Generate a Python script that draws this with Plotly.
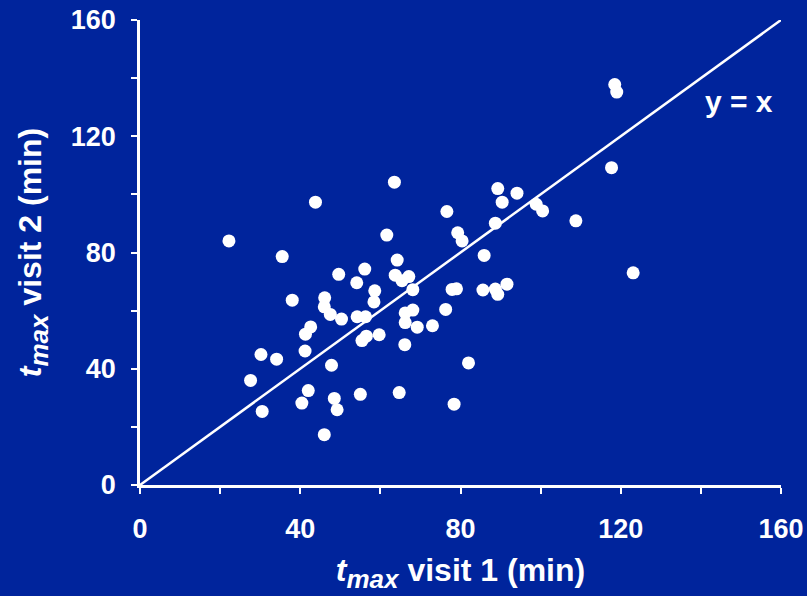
import plotly.graph_objects as go

visit1 = [22.2, 43.8, 63.5, 61.6, 35.5, 49.6, 56.1, 64.2, 54.1, 58.6,
          58.4, 63.7, 65.4, 67.1, 68.1, 38.0, 46.1, 46.0, 47.5, 50.3,
          54.2, 56.3, 66.2, 68.1, 66.2, 69.2, 73.0, 42.6, 41.3, 56.5,
          55.4, 59.7, 66.1, 41.2, 30.2, 34.1, 47.8, 27.6, 42.0, 40.4,
          30.5, 48.5, 49.2, 46.0, 55.0, 64.7, 76.6, 89.3, 94.1, 90.4,
          98.9, 100.5, 108.8, 88.7, 79.3, 80.4, 85.9, 77.9, 79.0, 85.6,
          88.7, 89.3, 91.6, 76.3, 82.0, 78.4, 118.5, 119.0, 117.7, 123.1]
visit2 = [84.0, 97.3, 104.2, 86.0, 78.6, 72.5, 74.3, 77.4, 69.6, 66.8,
          63.0, 72.2, 70.3, 71.7, 67.2, 63.6, 64.4, 61.3, 58.7, 57.1,
          57.9, 57.9, 59.2, 60.2, 55.9, 54.3, 54.8, 54.4, 51.9, 51.2,
          49.7, 51.7, 48.3, 46.1, 44.9, 43.3, 41.2, 36.0, 32.5, 28.2,
          25.3, 29.8, 25.9, 17.3, 31.2, 31.8, 94.1, 102.0, 100.4, 97.3,
          96.6, 94.3, 90.9, 90.1, 86.8, 84.0, 79.0, 67.3, 67.5, 67.1,
          67.4, 65.6, 69.1, 60.4, 42.0, 27.8, 137.8, 135.2, 109.2, 73.0]
identity_x = [0, 160]
identity_y = [0, 160]
tick_vals = [0, 40, 80, 120, 160]
tick_text = ["0", "40", "80", "120", "160"]

BG = "#00249C"
FONT = "Liberation Sans, Arial, sans-serif"

fig = go.Figure()
fig.add_trace(go.Scatter(x=identity_x, y=identity_y, mode="lines",
                         line=dict(color="white", width=2.5), hoverinfo="skip"))
fig.add_trace(go.Scatter(x=visit1, y=visit2, mode="markers",
                         marker=dict(color="white", size=13, line=dict(width=0))))

axis_common = dict(
    range=[0, 160], tickvals=tick_vals, ticktext=tick_text,
    showgrid=False, zeroline=False, showline=True, linecolor="white", linewidth=2.5,
    ticks="outside", tickcolor="white", tickwidth=2, ticklen=6,
    minor=dict(tickvals=[20, 60, 100, 140], ticks="outside", ticklen=6,
               tickwidth=2, tickcolor="white", showgrid=False),
    tickfont=dict(family=FONT, size=27, color="white", weight="bold"),
)

title_txt = '<i>t</i><sub><span style="font-size:26px"><i>max</i></span></sub> visit {} (min)'

fig.update_layout(
    width=807, height=596,
    margin=dict(l=140, r=26, t=20, b=111, autoexpand=False),
    paper_bgcolor=BG, plot_bgcolor=BG,
    showlegend=False,
    xaxis=dict(**axis_common, ticklabelstandoff=12,
               title=dict(text=title_txt.format(1),
                          font=dict(family=FONT, size=32, color="white", weight="bold"),
                          standoff=16)),
    yaxis=dict(**axis_common, ticklabelstandoff=10,
               title=dict(text=title_txt.format(2),
                          font=dict(family=FONT, size=32, color="white", weight="bold"),
                          standoff=20)),
    annotations=[dict(x=149.5, y=132, xref="x", yref="y", text="y = x", showarrow=False,
                      font=dict(family=FONT, size=30, color="white", weight="bold"))],
)

fig.write_html("out.html")
